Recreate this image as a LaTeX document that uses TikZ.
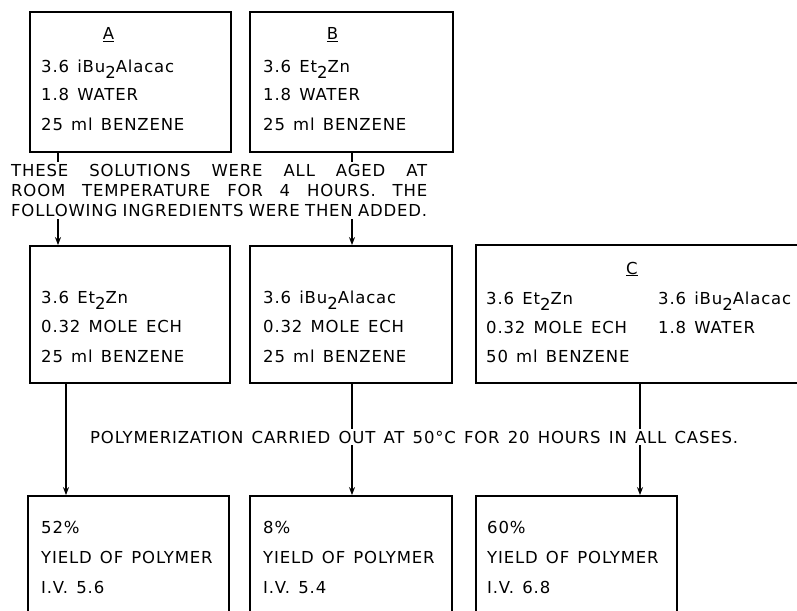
\documentclass[tikz,border=0pt]{standalone}
\usepackage{fontspec}
\usepackage{tikz}
\usetikzlibrary{positioning,arrows.meta}
\newfontfamily\typefont[LetterSpace=5, WordSpace=1.35]{DejaVu Sans}
\newcommand{\lowtwo}{\raisebox{-6.5pt}{2}}

\begin{document}
\begin{tikzpicture}[x=1pt, y=-1pt,
    txt/.style={font=\typefont\fontsize{16.5}{20}\selectfont, inner sep=0pt},
    line/.style={txt, anchor=base west},
    head/.style={txt, anchor=base},
    box/.style={draw, line width=1.8pt, inner sep=0pt},
    arr/.style={-{Stealth[length=8pt, width=6pt]}, line width=1.4pt}
]
\useasboundingbox (0,0) rectangle (797,610);
\clip (0,0) rectangle (797,610);

% Top row - the aged solutions
\node[box, minimum width=201pt, minimum height=140pt] (boxA) at (130.5,82) {};
\node[box, minimum width=203pt, minimum height=140pt] (boxB) at (351.5,82) {};
\node[head] (hA) at (108.5,40) {\underline{A}};
\node[head] (hB) at (332.5,40) {\underline{B}};
\node[line] (a1) at (41,72) {3.6 iBu\lowtwo Alacac};
\node[line] (a2) at (41,100) {1.8 WATER};
\node[line] (a3) at (41,130) {25 ml BENZENE};
\node[line] (b1) at (263,72) {3.6 Et\lowtwo Zn};
\node[line] (b2) at (263,100) {1.8 WATER};
\node[line] (b3) at (263,130) {25 ml BENZENE};

% Middle row - ingredients added, and mixture C
\node[box, minimum width=200pt, minimum height=137pt] (mid1) at (130,314.5) {};
\node[box, minimum width=202pt, minimum height=137pt] (mid2) at (351,314.5) {};
\node[box, minimum width=364pt, minimum height=138pt] (boxC) at (658,314) {};
\node[line] (m1) at (41,303) {3.6 Et\lowtwo Zn};
\node[line] (m2) at (41,332) {0.32 MOLE ECH};
\node[line] (m3) at (41,362) {25 ml BENZENE};
\node[line] (n1) at (263,303) {3.6 iBu\lowtwo Alacac};
\node[line] (n2) at (263,332) {0.32 MOLE ECH};
\node[line] (n3) at (263,362) {25 ml BENZENE};
\node[head] (hC) at (632,274) {\underline{C}};
\node[line] (c1) at (486,304) {3.6 Et\lowtwo Zn};
\node[line] (c2) at (486,333) {0.32 MOLE ECH};
\node[line] (c3) at (486,362) {50 ml BENZENE};
\node[line] (c4) at (658,304) {3.6 iBu\lowtwo Alacac};
\node[line] (c5) at (658,333) {1.8 WATER};

% Bottom row - results (boxes run off the page)
\node[box, minimum width=201pt, minimum height=164pt] (bot1) at (128.5,578) {};
\node[box, minimum width=202pt, minimum height=164pt] (bot2) at (351,578) {};
\node[box, minimum width=201pt, minimum height=164pt] (bot3) at (576.5,578) {};
\node[line] (r1) at (41,533) {52\%};
\node[line] (r2) at (41,563) {YIELD OF POLYMER};
\node[line] (r3) at (41,593) {I.V. 5.6};
\node[line] (s1) at (263,533) {8\%};
\node[line] (s2) at (263,563) {YIELD OF POLYMER};
\node[line] (s3) at (263,593) {I.V. 5.4};
\node[line] (t1) at (487,533) {60\%};
\node[line] (t2) at (487,563) {YIELD OF POLYMER};
\node[line] (t3) at (487,593) {I.V. 6.8};

% Connectors
\draw[arr] ([xshift=-72.5pt]boxA.south) -- ([xshift=-72pt]mid1.north);
\draw[arr] ([xshift=0.5pt]boxB.south) -- ([xshift=1pt]mid2.north);
\draw[arr] ([xshift=-64pt]mid1.south) -- ([xshift=-62.5pt]bot1.north);
\draw[arr] ([xshift=1pt]mid2.south) -- ([xshift=1pt]bot2.north);
\draw[arr] ([xshift=-18pt]boxC.south) -- ([xshift=63.5pt]bot3.north);

% Notes laid over the connectors
\node[txt, fill=white, inner sep=2pt, anchor=north west, text width=416pt] (aged) at (9,162) {%
\hbox to 416pt{THESE\hfill SOLUTIONS\hfill WERE\hfill ALL\hfill AGED\hfill AT}
\hbox to 416pt{ROOM\hfill TEMPERATURE\hfill FOR\hfill 4\hfill HOURS.\hfill THE}
\hbox to 416pt{FOLLOWING\hfill INGREDIENTS\hfill WERE\hfill THEN\hfill ADDED.}};
\node[line, fill=white, inner sep=2pt] (poly) at (88,443) {POLYMERIZATION CARRIED OUT AT 50°C FOR 20 HOURS IN ALL CASES.};

\end{tikzpicture}
\end{document}
